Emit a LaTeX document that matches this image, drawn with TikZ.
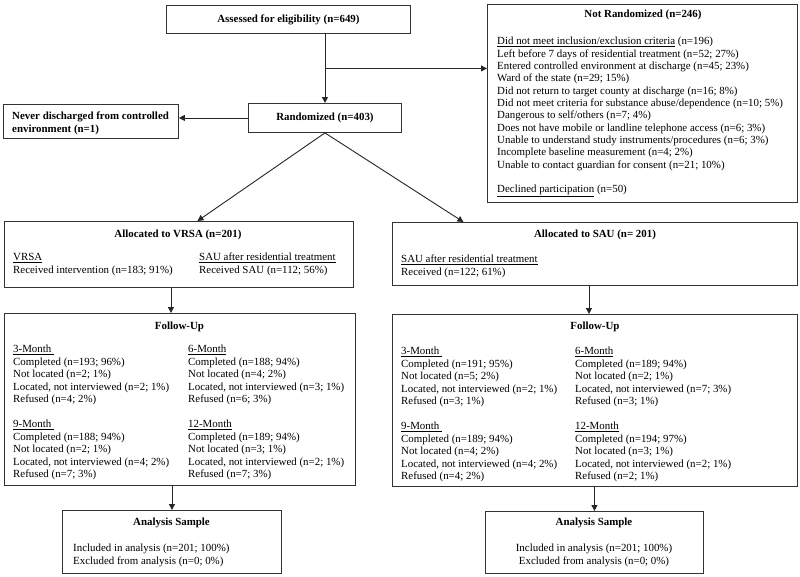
\documentclass[tikz,border=0pt]{standalone}
\usepackage{fontspec}
\setmainfont{Liberation Serif}
\usetikzlibrary{arrows.meta,calc}
\newcommand\hs{\rule{0pt}{8.5pt}}
\begin{document}
\begin{tikzpicture}[x=1pt,y=-1pt,
  every node/.style={font=\fontsize{10.9pt}{12.5pt}\selectfont},
  box/.style={draw=black!80,line width=0.9pt,anchor=north west,inner sep=0pt},
  ttl/.style={font=\fontsize{10.9pt}{12.5pt}\selectfont\bfseries,inner sep=0pt},
  txt/.style={anchor=north west,align=left,inner sep=0pt},
  arr/.style={draw=black!85,line width=0.9pt,-{Triangle[length=6pt,width=6pt]}}]
\useasboundingbox[fill=white] (0,0) rectangle (800,576);
% boxes
\node[box,minimum width=244pt,minimum height=28pt] (assess) at (166,5) {};
\node[box,minimum width=310pt,minimum height=198pt] (notrand) at (487,4) {};
\node[box,minimum width=153pt,minimum height=29pt] (rand) at (248,103) {};
\node[box,minimum width=175pt,minimum height=34pt] (never) at (3,104) {};
\node[box,minimum width=349pt,minimum height=66pt] (vrsa) at (4,221) {};
\node[box,minimum width=405pt,minimum height=63pt] (sau) at (392,222) {};
\node[box,minimum width=351pt,minimum height=172pt] (ful) at (4,313) {};
\node[box,minimum width=405pt,minimum height=172pt] (fur) at (392,314) {};
\node[box,minimum width=219pt,minimum height=63pt] (anl) at (62,510) {};
\node[box,minimum width=218pt,minimum height=62pt] (anr) at (485,511) {};
% titles
\node[ttl] (tassess) at (assess.center) {Assessed for eligibility (n=649)};
\node[ttl] (tnotrand) at (643,15) {Not Randomized (n=246)};
\node[ttl] (trand) at (rand.center) {Randomized (n=403)};
\node[ttl,anchor=north west,align=left] (tnever) at (12,111) {\hs Never discharged from controlled\\environment (n=1)};
\node[ttl] (tvrsa) at (178,235) {Allocated to VRSA (n=201)};
\node[ttl] (tsau) at (595,235) {Allocated to SAU (n= 201)};
\node[ttl] (tful) at (179.5,327) {Follow-Up};
\node[ttl] (tfur) at (595,327) {Follow-Up};
\node[ttl] (tanl) at (171.5,523) {Analysis Sample};
\node[ttl] (tanr) at (594,523) {Analysis Sample};
% body texts
\node[txt,font=\fontsize{10.9pt}{12.35pt}\selectfont] (nrlist) at (497,36) {\hs\underline{Did not meet inclusion/exclusion criteria} (n=196)\\
Left before 7 days of residential treatment (n=52; 27\%)\\
Entered controlled environment at discharge (n=45; 23\%)\\
Ward of the state (n=29; 15\%)\\
Did not return to target county at discharge (n=16; 8\%)\\
Did not meet criteria for substance abuse/dependence (n=10; 5\%)\\
Dangerous to self/others (n=7; 4\%)\\
Does not have mobile or landline telephone access (n=6; 3\%)\\
Unable to understand study instruments/procedures (n=6; 3\%)\\
Incomplete baseline measurement (n=4; 2\%)\\
Unable to contact guardian for consent (n=21; 10\%)\\[12.35pt]
\underline{Declined participation} (n=50)};
\node[txt] (vrsal) at (13,252) {\hs\underline{VRSA}\\Received intervention (n=183; 91\%)};
\node[txt] (vrsar) at (199,252) {\hs\underline{SAU after residential treatment}\\Received SAU (n=112; 56\%)};
\node[txt] (saul) at (401,254) {\hs\underline{SAU after residential treatment}\\Received (n=122; 61\%)};
% follow-up left
\node[txt] (fl1) at (13,344) {\hs\underline{3-Month\ }\\Completed (n=193; 96\%)\\Not located (n=2; 1\%)\\Located, not interviewed (n=2; 1\%)\\Refused (n=4; 2\%)\\[12.5pt]
\underline{9-Month\ }\\Completed (n=188; 94\%)\\Not located (n=2; 1\%)\\Located, not interviewed (n=4; 2\%)\\Refused (n=7; 3\%)};
\node[txt] (fl2) at (188,344) {\hs\underline{6-Month}\\Completed (n=188; 94\%)\\Not located (n=4; 2\%)\\Located, not interviewed (n=3; 1\%)\\Refused (n=6; 3\%)\\[12.5pt]
\underline{12-Month}\\Completed (n=189; 94\%)\\Not located (n=3; 1\%)\\Located, not interviewed (n=2; 1\%)\\Refused (n=7; 3\%)};
% follow-up right
\node[txt] (fr1) at (401,346) {\hs\underline{3-Month\ }\\Completed (n=191; 95\%)\\Not located (n=5; 2\%)\\Located, not interviewed (n=2; 1\%)\\Refused (n=3; 1\%)\\[12.5pt]
\underline{9-Month\ }\\Completed (n=189; 94\%)\\Not located (n=4; 2\%)\\Located, not interviewed (n=4; 2\%)\\Refused (n=4; 2\%)};
\node[txt] (fr2) at (575,346) {\hs\underline{6-Month}\\Completed (n=189; 94\%)\\Not located (n=2; 1\%)\\Located, not interviewed (n=7; 3\%)\\Refused (n=3; 1\%)\\[12.5pt]
\underline{12-Month}\\Completed (n=194; 97\%)\\Not located (n=3; 1\%)\\Located, not interviewed (n=2; 1\%)\\Refused (n=2; 1\%)};
% analysis
\node[txt] (al) at (73,543) {\hs Included in analysis (n=201; 100\%)\\Excluded from analysis (n=0; 0\%)};
\node[txt,anchor=north,align=center] (ar) at (594,543) {\hs Included in analysis (n=201; 100\%)\\Excluded from analysis (n=0; 0\%)};
% connectors
\coordinate (br) at ($(assess.south -| rand.north)!0.5!(rand.north)$);
\draw[arr] (assess.south -| rand.north) -- (rand.north);
\draw[arr] (br) -- (br -| notrand.west);
\draw[arr] (rand.west) -- (rand.west -| never.east);
\draw[arr] (rand.south) -- ([xshift=18.5pt]vrsa.north);
\draw[arr] (rand.south) -- ([xshift=-131.5pt]sau.north);
\draw[arr] ([xshift=-8pt]vrsa.south) -- ([xshift=-8pt]vrsa.south |- ful.north);
\draw[arr] ([xshift=-6pt]sau.south) -- ([xshift=-6pt]sau.south |- fur.north);
\draw[arr] (anl.north |- ful.south) -- (anl.north);
\draw[arr] (anr.north |- fur.south) -- (anr.north);
\end{tikzpicture}
\end{document}
